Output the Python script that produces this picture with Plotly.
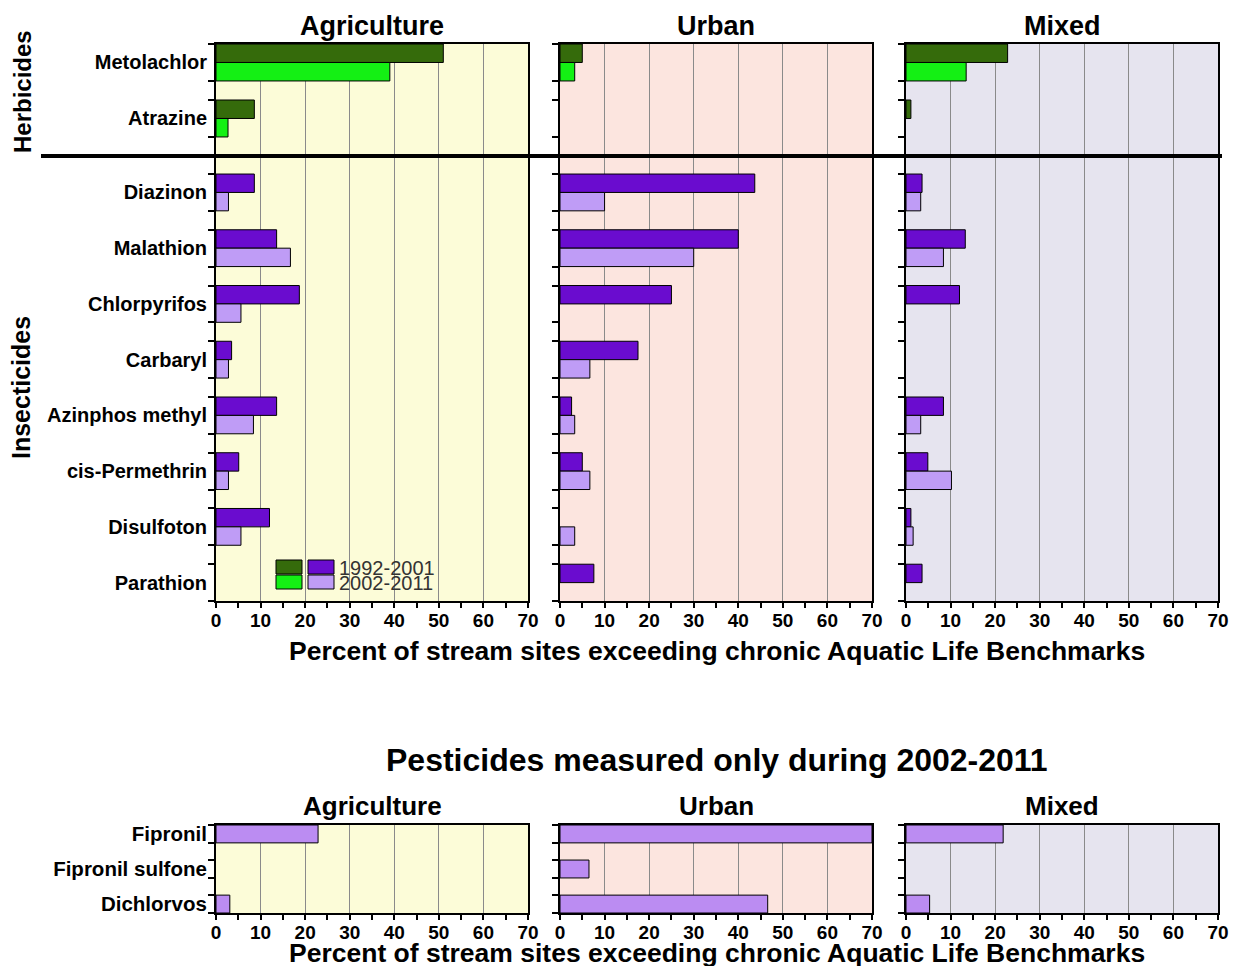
import plotly.graph_objects as go

W, H = 1233, 966

# ---------------- data ----------------
land_uses = ["Agriculture", "Urban", "Mixed"]
periods = ["1992-2001", "2002-2011"]
herbicides = ["Metolachlor", "Atrazine"]
insecticides = ["Diazinon", "Malathion", "Chlorpyrifos", "Carbaryl",
                "Azinphos methyl", "cis-Permethrin", "Disulfoton", "Parathion"]
new_pesticides = ["Fipronil", "Fipronil sulfone", "Dichlorvos"]
x_ticks = [0, 10, 20, 30, 40, 50, 60, 70]

agr_herb_1992 = [51.0, 8.6]
agr_herb_2002 = [39.0, 2.7]
urb_herb_1992 = [5.0, 0]
urb_herb_2002 = [3.3, 0]
mix_herb_1992 = [22.8, 1.1]
mix_herb_2002 = [13.5, 0]

agr_ins_1992 = [8.6, 13.6, 18.7, 3.5, 13.6, 5.1, 12.0, 0]
agr_ins_2002 = [2.8, 16.7, 5.6, 2.8, 8.4, 2.8, 5.6, 0]
urb_ins_1992 = [43.7, 40.0, 25.0, 17.5, 2.6, 5.0, 0, 7.6]
urb_ins_2002 = [10.0, 30.0, 0, 6.7, 3.3, 6.7, 3.3, 0]
mix_ins_1992 = [3.6, 13.3, 12.0, 0, 8.4, 4.9, 1.1, 3.6]
mix_ins_2002 = [3.3, 8.4, 0, 0, 3.3, 10.2, 1.6, 0]

agr_new_2002 = [22.9, 0, 3.1]
urb_new_2002 = [70.0, 6.5, 46.6]
mix_new_2002 = [21.8, 0, 5.3]

herb_data = [(agr_herb_1992, agr_herb_2002), (urb_herb_1992, urb_herb_2002), (mix_herb_1992, mix_herb_2002)]
ins_data = [(agr_ins_1992, agr_ins_2002), (urb_ins_1992, urb_ins_2002), (mix_ins_1992, mix_ins_2002)]
new_data = [agr_new_2002, urb_new_2002, mix_new_2002]

# ---------------- styling ----------------
FONT = "Liberation Sans"
C_HERB = ["#356b0b", "#14f014"]
C_INS = ["#6a0ccf", "#bf9cf6"]
C_NEW = "#bb8cf2"
BG = ["#fcfcd8", "#fce5df", "#e6e4ef"]
GRID = "#8a8a8a"

col_px = [(216, 528), (560, 872), (906, 1218)]
herb_px = (44, 156)
ins_px = (156, 601)
new_px = (825, 913)

BARGAP = 0.34
NEW_BARGAP = 0.49


def fx(p):
    return p / W


def fy(p):
    return 1 - p / H


def xdom(c):
    return [fx(col_px[c][0]), fx(col_px[c][1])]


def ydom(rng):
    return [fy(rng[1]), fy(rng[0])]


def nz(vals):
    return [v if v > 0 else None for v in vals]


fig = go.Figure()
layout = {}
shapes = []
annotations = []


def xaxis_cfg(c, anchor, labels):
    cfg = dict(domain=xdom(c), anchor=anchor, range=[0, 70], automargin=False,
               tickmode="array", tickvals=x_ticks,
               showgrid=True, gridcolor=GRID, gridwidth=1, zeroline=False,
               showline=True, linecolor="black", linewidth=2, mirror=True,
               showticklabels=labels, fixedrange=True, ticklabelstandoff=-4,
               tickfont=dict(family=FONT, size=19, color="black", weight="bold"))
    if labels:
        cfg.update(ticks="outside", ticklen=5, tickwidth=1.5, tickcolor="black",
                   minor=dict(tickmode="array",
                              tickvals=[v + 5 for v in x_ticks[:-1]],
                              ticks="outside", ticklen=5, tickwidth=1.5,
                              tickcolor="black", showgrid=False))
    else:
        cfg.update(ticks="")
    return cfg


def yaxis_cfg(dom, anchor, names, rng, bargap, labels, fsize):
    half = (1 - bargap) / 2
    edges = []
    for i in range(len(names)):
        edges += [i - half, i + half]
    cfg = dict(domain=ydom(dom), anchor=anchor, range=rng, automargin=False,
               tickmode="array", tickvals=list(range(len(names))),
               ticktext=names, showticklabels=labels, ticks="",
               showgrid=False, zeroline=False, fixedrange=True,
               showline=True, linecolor="black", linewidth=2, mirror=True,
               ticklabelstandoff=3,
               tickfont=dict(family=FONT, size=fsize, color="black", weight="bold"),
               minor=dict(tickmode="array", tickvals=edges, ticks="outside",
                          ticklen=6, tickwidth=1.5, tickcolor="black",
                          showgrid=False))
    return cfg


half = (1 - BARGAP) / 2
herb_range = [len(herbicides) - 1 + (1 - half), -half]
ins_top = -(half + 18 / 55.6)
ins_range = [len(insecticides) - 1 + half, ins_top]
nhalf = (1 - NEW_BARGAP) / 2
new_range = [len(new_pesticides) - 1 + nhalf, -nhalf]

for c in range(3):
    ih = 1 + c * 3
    ii = 2 + c * 3
    inn = 3 + c * 3
    sfx = lambda k: "" if k == 1 else str(k)

    # herbicides
    for p in range(2):
        fig.add_trace(go.Bar(
            x=nz(herb_data[c][p]), y=list(range(len(herbicides))), orientation="h",
            marker=dict(color=C_HERB[p], line=dict(color="black", width=1)),
            name=periods[p], showlegend=False,
            xaxis="x" + sfx(ih), yaxis="y" + sfx(ih)))
    # insecticides
    for p in range(2):
        fig.add_trace(go.Bar(
            x=nz(ins_data[c][p]), y=list(range(len(insecticides))), orientation="h",
            marker=dict(color=C_INS[p], line=dict(color="black", width=1)),
            name=periods[p], showlegend=False,
            xaxis="x" + sfx(ii), yaxis="y" + sfx(ii)))
    # new pesticides
    fig.add_trace(go.Bar(
        x=nz(new_data[c]), y=list(range(len(new_pesticides))), orientation="h",
        marker=dict(color=C_NEW, line=dict(color="black", width=1)),
        name=periods[1], showlegend=False, width=1 - NEW_BARGAP,
        xaxis="x" + sfx(inn), yaxis="y" + sfx(inn)))

    layout["xaxis" + sfx(ih)] = xaxis_cfg(c, "y" + sfx(ih), False)
    layout["yaxis" + sfx(ih)] = yaxis_cfg(herb_px, "x" + sfx(ih), herbicides,
                                         herb_range, BARGAP, c == 0, 20)
    layout["xaxis" + sfx(ii)] = xaxis_cfg(c, "y" + sfx(ii), True)
    layout["yaxis" + sfx(ii)] = yaxis_cfg(ins_px, "x" + sfx(ii), insecticides,
                                         ins_range, BARGAP, c == 0, 20)
    layout["xaxis" + sfx(inn)] = xaxis_cfg(c, "y" + sfx(inn), True)
    layout["yaxis" + sfx(inn)] = yaxis_cfg(new_px, "x" + sfx(inn), new_pesticides,
                                          new_range, NEW_BARGAP, c == 0, 20.5)

    # panel backgrounds
    for k in (ih, ii, inn):
        shapes.append(dict(type="rect", xref="x" + sfx(k) + " domain",
                           yref="y" + sfx(k) + " domain", x0=0, x1=1, y0=0, y1=1,
                           fillcolor=BG[c], line=dict(width=0), layer="below"))

    # column titles
    cx = fx((col_px[c][0] + col_px[c][1]) / 2)
    annotations.append(dict(text="<b>%s</b>" % land_uses[c], x=cx, y=fy(26),
                            xref="paper", yref="paper", showarrow=False,
                            xanchor="center", yanchor="middle",
                            font=dict(family=FONT, size=27, color="black")))
    annotations.append(dict(text="<b>%s</b>" % land_uses[c], x=cx, y=fy(806),
                            xref="paper", yref="paper", showarrow=False,
                            xanchor="center", yanchor="middle",
                            font=dict(family=FONT, size=26, color="black")))

# divider between herbicides and insecticides
shapes.append(dict(type="line", xref="paper", yref="paper",
                   x0=fx(41), x1=fx(1222), y0=fy(156), y1=fy(156),
                   line=dict(color="black", width=4), layer="above"))

# legend (swatches)
sw = [(276, 302), (308, 334)]
rows = [(560, 574), (575, 589)]
for r in range(2):
    for k, cols in enumerate((C_HERB, C_INS)):
        shapes.append(dict(type="rect", xref="paper", yref="paper",
                           x0=fx(sw[k][0]), x1=fx(sw[k][1]),
                           y0=fy(rows[r][1]), y1=fy(rows[r][0]),
                           fillcolor=cols[r], line=dict(color="black", width=1),
                           layer="above"))
    annotations.append(dict(text=periods[r], x=fx(337), y=fy((rows[r][0] + rows[r][1]) / 2 + 1),
                            xref="paper", yref="paper", showarrow=False,
                            xanchor="left", yanchor="middle",
                            font=dict(family=FONT, size=20, color="#333333")))

# axis titles & section labels
xtitle = "<b>Percent of stream sites exceeding chronic Aquatic Life Benchmarks</b>"
annotations.append(dict(text=xtitle, x=fx(717), y=fy(651), xref="paper", yref="paper",
                        showarrow=False, xanchor="center", yanchor="middle",
                        font=dict(family=FONT, size=26.5, color="black")))
annotations.append(dict(text=xtitle, x=fx(717), y=fy(953), xref="paper", yref="paper",
                        showarrow=False, xanchor="center", yanchor="middle",
                        font=dict(family=FONT, size=26.5, color="black")))
annotations.append(dict(text="<b>Herbicides</b>", x=fx(22), y=fy(92), xref="paper", yref="paper",
                        showarrow=False, textangle=-90, xanchor="center", yanchor="middle",
                        font=dict(family=FONT, size=24, color="black")))
annotations.append(dict(text="<b>Insecticides</b>", x=fx(21), y=fy(388), xref="paper", yref="paper",
                        showarrow=False, textangle=-90, xanchor="center", yanchor="middle",
                        font=dict(family=FONT, size=25, color="black")))
annotations.append(dict(text="<b>Pesticides measured only during 2002-2011</b>", x=fx(717), y=fy(760),
                        xref="paper", yref="paper", showarrow=False,
                        xanchor="center", yanchor="middle",
                        font=dict(family=FONT, size=32, color="black")))

fig.update_layout(**layout)
fig.update_layout(width=W, height=H, margin=dict(l=0, r=0, t=0, b=0, autoexpand=False),
                  paper_bgcolor="white", plot_bgcolor="white",
                  barmode="group", bargap=BARGAP, bargroupgap=0,
                  showlegend=False, shapes=shapes, annotations=annotations,
                  font=dict(family=FONT, color="black"))

fig.write_html("out.html", config={"displayModeBar": False},
               post_script="document.body.style.margin='0';document.body.style.overflow='hidden';")
